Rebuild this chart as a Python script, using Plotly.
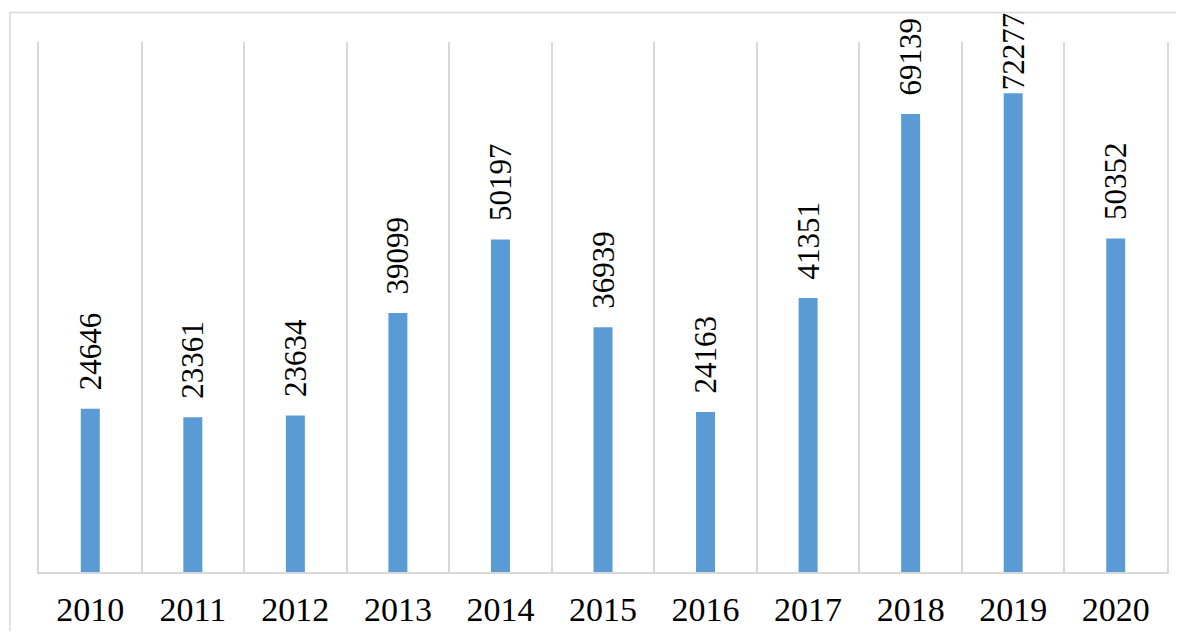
import plotly.graph_objects as go

years = ["2010", "2011", "2012", "2013", "2014", "2015", "2016", "2017", "2018", "2019", "2020"]
values = [24646, 23361, 23634, 39099, 50197, 36939, 24163, 41351, 69139, 72277, 50352]

# page body has an 8px margin, so the figure is sized to the window minus that
W, H = 1168, 623
L, R, T, B = 30.5, 9, 34, 59
pw, ph = W - L - R, H - T - B

# labels sit a little above their bars unless that would push them off the chart
labels = [("\u00a0\u00a0" if v < 70000 else "") + str(v) for v in values]

SERIF = "Liberation Serif, Times New Roman, serif"

fig = go.Figure(go.Bar(
    x=years, y=values,
    marker=dict(color="#5B9BD5", line=dict(width=0)),
    width=0.185,
    text=labels,
    textposition="outside",
    textangle=-90,
    constraintext="none",
    outsidetextfont=dict(family=SERIF, size=31, color="#000000"),
    textfont=dict(family=SERIF, size=31, color="#000000"),
    cliponaxis=False,
))

def px_x(x):
    return (x - L) / pw

def px_y(y):
    return (H - B - y) / ph

fig.add_shape(type="rect", xref="paper", yref="paper",
              x0=px_x(1.5), x1=px_x(1200), y0=px_y(4.5), y1=px_y(660),
              line=dict(color="#d9d9d9", width=1.5), fillcolor="rgba(0,0,0,0)", layer="below")

fig.update_layout(
    width=W, height=H,
    margin=dict(l=L, r=R, t=T, b=B, autoexpand=False),
    paper_bgcolor="white", plot_bgcolor="white",
    showlegend=False,
    uniformtext=dict(mode=False),
    font=dict(family=SERIF, color="#000000"),
    xaxis=dict(
        type="category",
        automargin=False,
        tickson="boundaries",
        showgrid=True, gridcolor="#d9d9d9", gridwidth=1.5,
        showline=True, linecolor="#d9d9d9", linewidth=1.5,
        ticks="", ticklen=0,
        ticklabelstandoff=6,
        tickfont=dict(family=SERIF, size=34, color="#000000"),
        range=[-0.5, 10.5],
    ),
    yaxis=dict(
        range=[0, 80000],
        automargin=False,
        showgrid=False, zeroline=False, showticklabels=False,
        showline=True, mirror=True, linecolor="#d9d9d9", linewidth=1.5, ticks="",
    ),
    bargap=0.8,
)

fig.write_html("out.html")
